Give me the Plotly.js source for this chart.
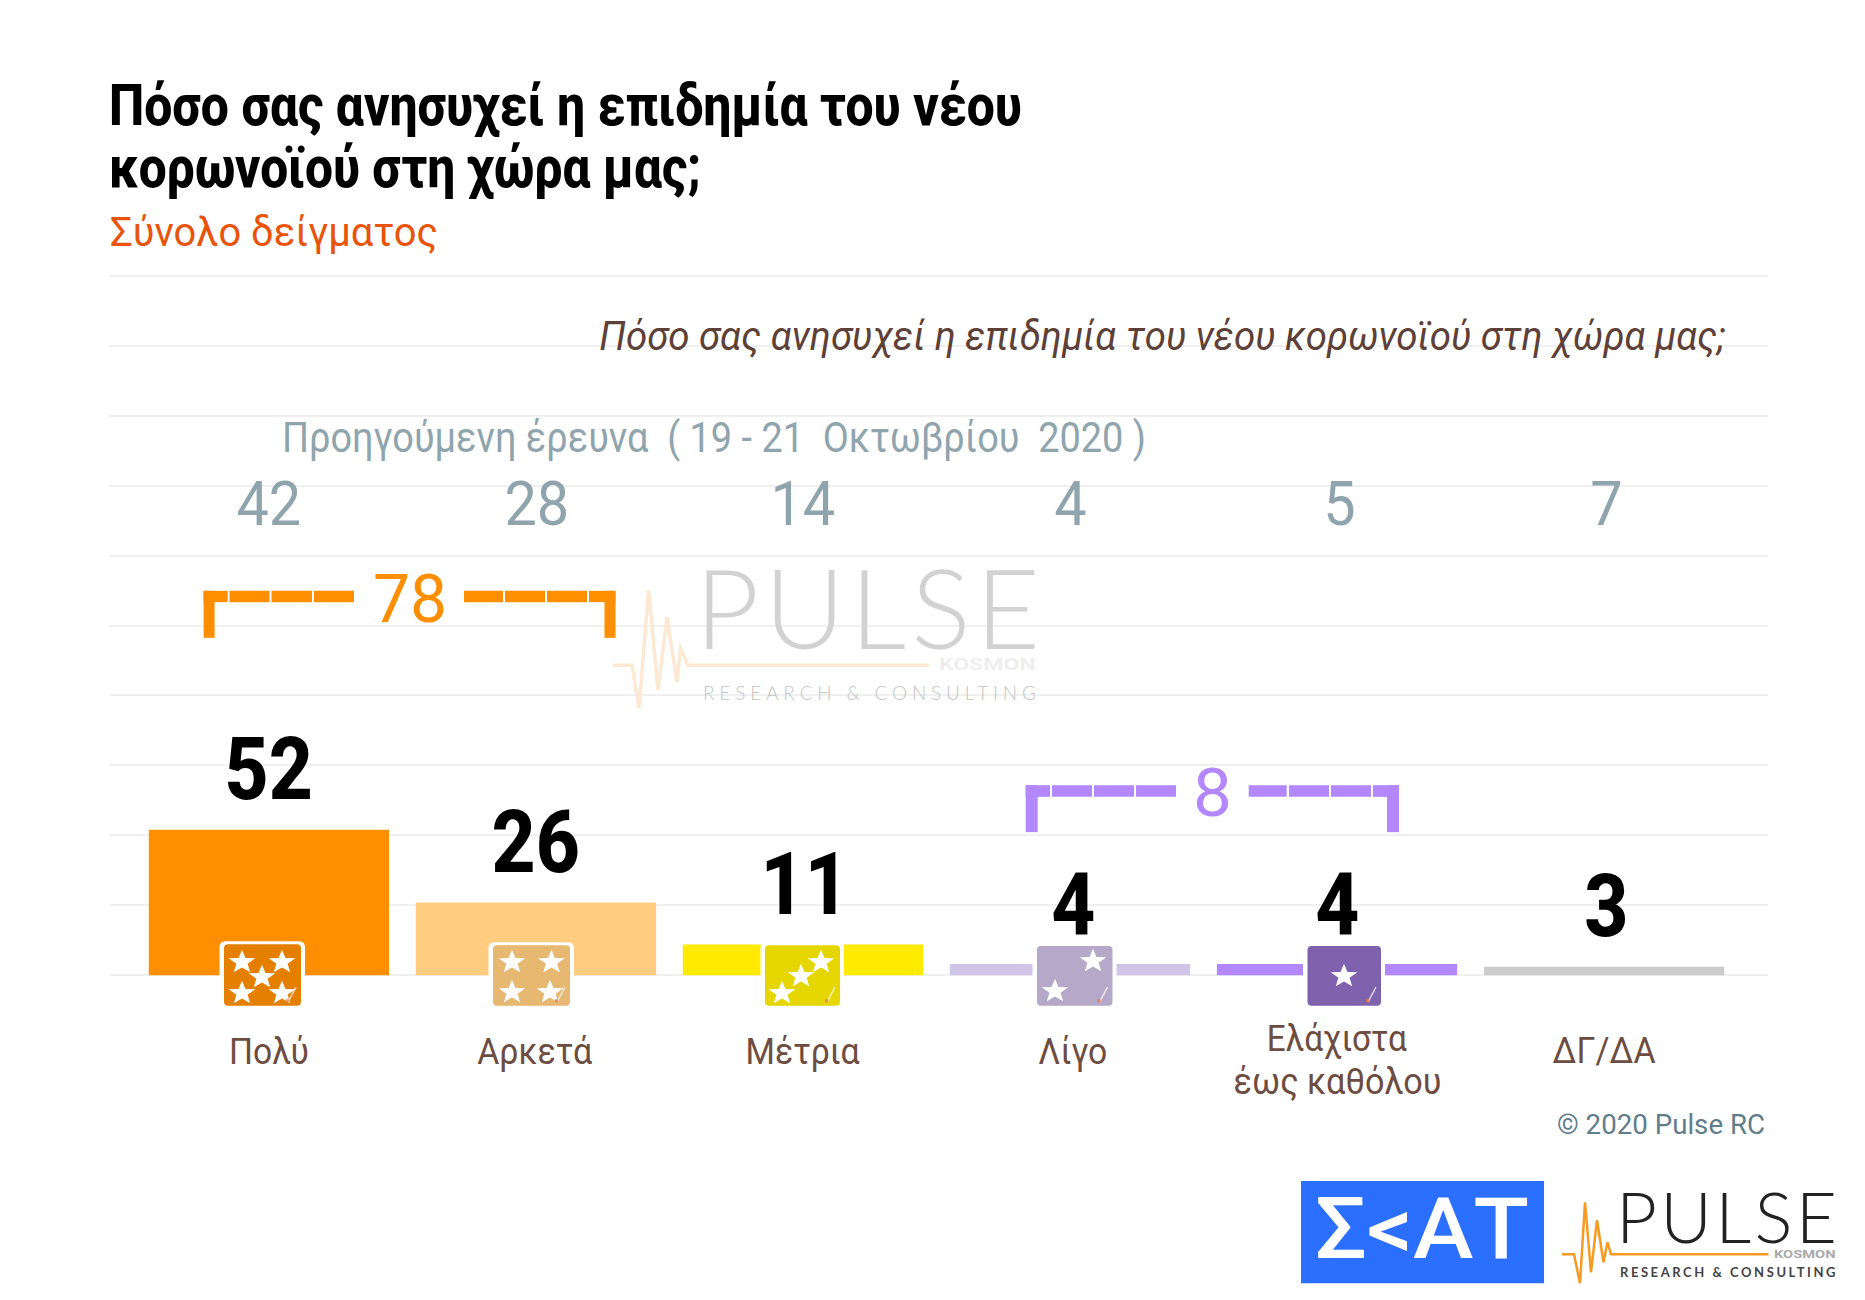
<!DOCTYPE html>
<html><head><meta charset="utf-8">
<script src="https://cdn.plot.ly/plotly-3.0.1.min.js"></script>
<style>html,body{margin:0;padding:0;background:#fff}#chart{width:1865px;height:1300px}</style>
</head><body><div id="chart"></div>
<script>
// ---- data ----
const categories = ['Πολύ','Αρκετά','Μέτρια','Λίγο','Ελάχιστα έως καθόλου','ΔΓ/ΔΑ'];
const currentValues = [52,26,11,4,4,3];
const previousValues = [42,28,14,4,5,7];
const starCounts = [5,4,3,2,1];
const groupTotals = [78,8];
const titleLines = ['Πόσο σας ανησυχεί η επιδημία του νέου','κορωνοϊού στη χώρα μας;'];
const subtitle = 'Σύνολο δείγματος';
const question = 'Πόσο σας ανησυχεί η επιδημία του νέου κορωνοϊού στη χώρα μας;';
const previousLabel = 'Προηγούμενη έρευνα  ( 19 - 21  Οκτωβρίου  2020 )';
const copyright = '© 2020 Pulse RC';

// ---- style ----
const barColors = ['#ff8f00','#ffcc80','#ffea00','#d1c4e9','#b388ff','#cccccc'];
const iconColors = ['#e57f00','#e6b872','#e6d600','#b5a8c8','#7e62ad'];
const W=1865,H=1300,L=109,R=1768,T=272.9,B=977.8;
const X=p=>(p-L)/(R-L), Y=p=>(B-p)/(B-T);
const FONT='Roboto, sans-serif';
const annotations=[], fits=[], shapes=[];

function txt(o){ // text placed by baseline in page pixels
  const s=o.size, d=0.244*s;
  const a={text:o.text,showarrow:false,borderpad:0,font:{family:o.family||FONT,size:s,color:o.color||'#000',weight:o.weight||400,style:o.style||'normal'},
    xanchor:o.anchor||'left',align:o.anchor||'left',yanchor:'bottom'};
  if(o.cat!==undefined){a.xref='x';a.x=o.cat;a.xshift=o.dx||0;}
  else{a.xref='paper';a.x=X(o.x);}
  if(o.val!==undefined){a.yref='y';a.y=o.val;a.yshift=o.yshift;}
  else{a.yref='paper';a.y=Y(o.base+d);}
  annotations.push(a);fits.push({w:o.w,sx:o.sx,adj:o.adj});
}
function rect(x0,y0,x1,y1,c,layer){shapes.push({type:'rect',xref:'paper',yref:'paper',x0:X(x0),x1:X(x1),y0:Y(y0),y1:Y(y1),fillcolor:c,line:{width:0},layer:layer||'above'});}
function poly(pts,c,close){let d=pts.map((p,i)=>(i?'L':'M')+X(p[0]).toFixed(5)+','+Y(p[1]).toFixed(5)).join(' ');if(close)d+=' Z';return d;}
function rrect(x0,y0,x1,y1,c,r){
  const d=`M${X(x0+r)},${Y(y0)} L${X(x1-r)},${Y(y0)} Q${X(x1)},${Y(y0)} ${X(x1)},${Y(y0+r)} L${X(x1)},${Y(y1-r)} Q${X(x1)},${Y(y1)} ${X(x1-r)},${Y(y1)} L${X(x0+r)},${Y(y1)} Q${X(x0)},${Y(y1)} ${X(x0)},${Y(y1-r)} L${X(x0)},${Y(y0+r)} Q${X(x0)},${Y(y0)} ${X(x0+r)},${Y(y0)} Z`;
  shapes.push({type:'path',xref:'paper',yref:'paper',path:d,fillcolor:c,line:{width:0},layer:'above'});
}
function star(cx,cy,rx,ry){
  const pts=[];for(let i=0;i<10;i++){const a=-Math.PI/2+i*Math.PI/5,k=i%2?0.42:1;pts.push([cx+rx*k*Math.cos(a),cy+ry*k*Math.sin(a)]);}
  shapes.push({type:'path',xref:'paper',yref:'paper',path:poly(pts,'',true),fillcolor:'#fff',line:{width:0},layer:'above'});
}
function pline(pts,c,w){shapes.push({type:'path',xref:'paper',yref:'paper',path:poly(pts),line:{color:c,width:w},fillcolor:'rgba(0,0,0,0)',layer:'above'});}

// white masks that interrupt the grid behind two captions
rect(596,335,1743,360,'#fff','between');
rect(267,405,1162,428,'#fff','between');

// titles
txt({text:titleLines[0],x:108,base:126.5,size:57,weight:800,w:913});
txt({text:titleLines[1],x:108,base:188.5,size:57,weight:800,w:592});
txt({text:subtitle,x:108.5,base:247,size:41,color:'#e8540c',w:328});
txt({text:question,x:1726,anchor:'right',base:350.5,size:41,color:'#5d4037',style:'italic',w:1126});
txt({text:previousLabel,x:281,base:452,size:43,color:'#90a4ae',w:864});

// previous-wave numbers
const prevShift=[0,1,0,0,2,2];
previousValues.forEach((v,i)=>txt({text:String(v),cat:categories[i],dx:prevShift[i],anchor:'center',base:525.5,size:62,color:'#90a4ae',sx:0.93}));

// current values above the bars
const valShift=[0,0,2,3,0,2];
currentValues.forEach((v,i)=>txt({text:String(v),cat:categories[i],dx:valShift[i],anchor:'center',val:v,yshift:8.5,size:88,weight:800,sx:0.87}));

// category labels
const labelLines=[[['Πολύ',80,1065]],[['Αρκετά',115,1065]],[['Μέτρια',114,1065]],[['Λίγο',69,1065]],[['Ελάχιστα',140,1052],['έως καθόλου',208,1095]],[['ΔΓ/ΔΑ',103,1064]]];
const labelShift=[0,-1,0,3,0,0];
labelLines.forEach((ls,i)=>ls.forEach(l=>txt({text:l[0],cat:categories[i],dx:labelShift[i],anchor:'center',base:l[2],size:37,color:'#6d4c41',w:l[1]})));

txt({text:copyright,x:1556,base:1135,size:28,color:'#607d8b',w:208});

// group brackets
const orange='#ff8f00', violet='#b388ff';
function bracket(left,right,top,bot,th,leg,segL,segR,c){
  rect(left,top,left+leg,bot,c);rect(right-leg,top,right,bot,c);
  segL.forEach(s=>rect(s[0],top,s[1],top+th,c));segR.forEach(s=>rect(s[0],top,s[1],top+th,c));
}
bracket(203.6,615.5,590.7,637.7,11.3,11,[[203.6,227.7],[229.5,269.5],[271.5,312],[314,354]],[[464,503],[505,545],[547,587],[589,615.5]],orange);
bracket(1025.7,1399,785,832,11.7,12,[[1025.7,1050],[1052,1092],[1094,1134],[1136,1176]],[[1248.7,1286.7],[1289,1329],[1331,1371],[1373,1399]],violet);
txt({text:String(groupTotals[0]),x:409.5,anchor:'center',base:623,size:66,color:orange,sx:1.0});
txt({text:String(groupTotals[1]),x:1212.5,anchor:'center',base:816.8,size:66,color:violet,sx:1.05});

// star icons
const iconBox=[[224,301,944],[493,570,945],[765,840,945],[1037,1112.5,945.7],[1307.5,1381,945.7]];
const starPos=[[[242,962],[282,962],[262,977],[242,993],[282,993]],[[512,962],[551.5,962],[512,992],[550,992]],[[782,993],[801,976],[821,962]],[[1093,961],[1055,991]],[[1344,976]]];
iconBox.forEach((b,i)=>{
  rrect(b[0]-4.5,b[2]-3,b[1]+4,1006.5,'#ffffff',6);
  rrect(b[0],b[2],b[1],1005.5,iconColors[i],4);
  starPos[i].slice(0,starCounts[i]).forEach(p=>star(p[0],p[1],14,12.5));
  pline([[b[1]-13,1002],[b[1]-5,987]],'rgba(255,255,255,0.7)',1.5);
  rect(b[1]-15,999,b[1]-12,1002,'rgba(230,120,70,0.8)');
});

// watermark
pline([[613,665],[632,665],[639,708],[648.6,590],[658,690],[667,617],[677,682],[680.5,648],[688,665],[929,665]],'#fde9d3',3.5);
txt({text:'PULSE',x:694,base:647,size:111,weight:300,family:'Lato, sans-serif',color:'#d2d2d2',w:345,adj:'spacing'});
txt({text:'KOSMON',x:937.6,base:671,size:17,weight:700,color:'#eeeeee',w:96.5});
txt({text:'RESEARCH & CONSULTING',x:702,base:700.5,size:19,weight:300,family:'Lato, sans-serif',color:'#c4c4c4',w:333,adj:'spacing'});

// logos
rect(1301,1180.7,1544,1283,'#2a6fff');
txt({text:'Σ<ΑΤ',x:1314,base:1259,size:85,weight:500,color:'#ffffff',w:214});
pline([[1562,1254],[1574,1254],[1580,1283],[1585,1202],[1591,1272],[1597,1220],[1603.5,1262],[1607.5,1242],[1611,1254],[1768.5,1254]],'#f59a23',2.5);
txt({text:'PULSE',x:1615,base:1241,size:71,weight:300,family:'Lato, sans-serif',color:'#222222',w:221,adj:'spacing'});
txt({text:'KOSMON',x:1773,base:1258,size:10,weight:700,color:'#aaaaaa',w:61.5});
txt({text:'RESEARCH & CONSULTING',x:1619,base:1277.5,size:13,weight:700,family:'Lato, sans-serif',color:'#444444',w:215.5,adj:'spacing'});

const bars={type:'bar',x:categories,y:currentValues,marker:{color:barColors,line:{width:0}},hoverinfo:'skip',showlegend:false};
const layout={width:W,height:H,margin:{l:L,r:W-R,t:T,b:H-B,autoexpand:false,pad:0},paper_bgcolor:'#fff',plot_bgcolor:'#fff',
  bargap:0.1,showlegend:false,font:{family:FONT},
  xaxis:{type:'category',categoryorder:'array',categoryarray:categories,range:[-0.599,5.614],showticklabels:false,showgrid:false,zeroline:false,showline:false,ticks:'',fixedrange:true},
  yaxis:{range:[-1,251],tick0:0,dtick:25,showticklabels:false,showgrid:true,gridcolor:'#f0f0f0',gridwidth:2,zeroline:false,showline:false,ticks:'',fixedrange:true},
  annotations,shapes};
Plotly.newPlot('chart',[bars],layout,{displayModeBar:false,staticPlot:true}).then(()=>{
  document.querySelectorAll('.annotation').forEach(g=>{
    const i=+g.getAttribute('data-index'), f=fits[i], t=g.querySelector('text.annotation-text');
    if(!t||!f)return;
    const len=f.w||(f.sx?t.getComputedTextLength()*f.sx:0);
    if(len){t.setAttribute('textLength',len);t.setAttribute('lengthAdjust',f.adj==='spacing'?'spacing':'spacingAndGlyphs');}
  });
});
</script></body></html>
